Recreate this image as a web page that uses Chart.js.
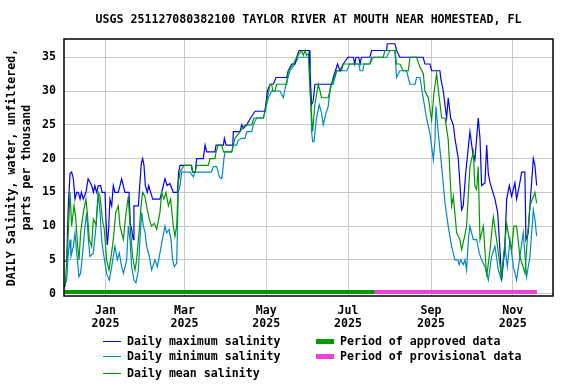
<!DOCTYPE html>
<html lang="en">
<head>
<meta charset="UTF-8">
<title>USGS 251127080382100 Taylor River salinity</title>
<script src="https://cdn.jsdelivr.net/npm/chart.js@4/dist/chart.umd.min.js"></script>
<style>
  body { margin: 0; background: #fff; }
  #wrap { position: relative; width: 576px; height: 384px; font-family: "DejaVu Sans Mono", monospace; font-weight: bold; font-size: 11.6px; color: #000; }
  #title { position: absolute; top: 12px; left: 64px; width: 489px; text-align: center; white-space: nowrap; }
  .leg { position: absolute; height: 16px; line-height: 16px; white-space: nowrap; }
  .leg i { display: inline-block; vertical-align: middle; width: 18px; margin-right: 6px; }
</style>
</head>
<body>
<div id="wrap">
  <canvas id="chart" width="576" height="384"></canvas>
  <div id="title">USGS 251127080382100 TAYLOR RIVER AT MOUTH NEAR HOMESTEAD, FL</div>
  <div class="leg" style="left:103px; top:333px"><i style="height:1.5px; background:#0000ff"></i>Daily maximum salinity</div>
  <div class="leg" style="left:103px; top:348px"><i style="height:1.5px; background:#0088cc"></i>Daily minimum salinity</div>
  <div class="leg" style="left:103px; top:365px"><i style="height:1.5px; background:#009900"></i>Daily mean salinity</div>
  <div class="leg" style="left:316px; top:333px"><i style="height:5px; background:#009900"></i>Period of approved data</div>
  <div class="leg" style="left:316px; top:348px"><i style="height:5px; background:#f040d8"></i>Period of provisional data</div>
</div>
<script>
// x = days since 2024-12-01, y = salinity (ppt)
const dailyMax = [[0,4.8],[2,4.8],[2.5,8],[3.2,13],[4.5,17.8],[5.7,18],[7,17],[8.2,14],[9.5,15],[10.7,15],[12,14],[13,15],[14.4,14],[16.4,15],[18,17],[19.4,16.5],[20.6,16],[22,15],[23,16],[24.4,15],[25.6,16],[27.4,16],[28.4,15],[30.6,15],[31.3,11],[32.3,7.2],[33.3,9.5],[34.3,14],[35.6,13],[36.8,16],[38,15],[40.5,15],[41.8,16],[43,17],[44.3,16],[45.5,15],[48.5,15],[49.5,10.4],[50.5,9.5],[51.7,8],[52.2,13],[55.5,13],[56.2,15],[57.7,19.3],[58.7,20],[59.7,19],[60.7,16],[62.2,15],[63.2,16],[64.7,15],[66.2,14],[71.6,14],[72.9,15],[75.4,17],[77,16],[79,16.3],[81.6,15],[84.6,15],[85.6,18],[86.6,19],[95,19],[96,18],[98,18],[99,20],[104,20],[105.3,22],[106.5,21],[112.7,21],[113.5,22],[119,22],[119.7,23],[121,22],[126,22],[126.4,24],[131.4,24],[132.6,25],[133.9,24.5],[136.4,25],[139.3,26],[142.6,27],[150,27],[151.8,30],[153.8,31],[156.3,31],[158.2,32],[166.2,32],[167.4,33],[169.9,34],[172.4,34],[173.7,35],[175.4,36],[183,36],[183.6,33],[184.8,28],[186,28.5],[187.3,31],[199.7,31],[201,32],[204.2,34],[206,33],[208.4,34],[212,35],[216,35],[217,34],[218,35],[220,35],[221,34],[222,35],[228.3,35],[229.6,36],[240.8,36],[241.3,37],[247,37],[248.2,36],[250.7,35],[268.1,35],[269.4,34],[273.2,34],[274.4,33],[280.6,33],[281.1,32],[283.1,30],[285.6,26],[286.8,29],[288.6,26],[290.6,25],[291.8,23],[294.3,20],[296.8,12.4],[298,13],[299.8,17.8],[303,24],[305,21],[306.7,19.8],[309.2,26],[310.5,23],[311.7,16],[314.2,16.4],[315.5,22],[316.7,17.8],[318,16.4],[321.7,14],[323.7,12],[325.4,6.5],[326.6,2],[329.1,7],[330.4,14],[332.4,16],[334.1,14.4],[336.6,16.4],[337.8,14],[339.8,15.9],[341.6,18],[344,18],[344.8,8],[346.5,9],[347.8,13],[350.3,20],[351.5,19],[352.8,16]];

const dailyMin = [[0,0.8],[0.7,0.8],[2,2],[3.2,6],[4.5,8],[5.2,5.5],[7,7],[8.2,9],[9.5,6],[11.2,2.5],[12.4,3],[13.9,6],[15.7,10],[16.9,12],[18.2,8],[19.4,5.5],[21.9,6],[23.9,10],[25.6,14.9],[26.9,12],[28.1,8],[29.4,6],[31.8,3],[33.8,2],[35.6,4],[38,7],[39.8,5],[41.3,6],[43,4],[44.3,3],[46.8,5],[48,10],[49.3,8],[50.5,4],[52.2,2],[53.7,1.6],[55.5,3.5],[56.7,8],[58,12],[59.2,10],[60.4,9.2],[61.7,7],[63.7,5.5],[65.4,3.5],[67.9,5],[69.7,4],[71.6,6],[73.4,8],[75.4,10],[76.6,9],[78.4,9.5],[79.9,8],[81.1,5],[82.3,4],[84.1,4.5],[85.3,15],[86.6,16],[87.8,18],[94,18],[96.5,17.3],[97.8,18],[110,18],[111.5,18.8],[114,18.8],[116,17.3],[117.7,17],[118.4,18],[119.4,20],[120.2,21],[125.2,21],[126.4,22],[128.9,22],[130,22.7],[132.6,23],[135.1,23],[136.4,24],[140.1,24],[141.3,25],[143.8,26],[148.8,26],[150,27],[152.5,29],[155,30],[161.2,30],[163.7,29],[165.7,31],[168.7,33],[172.4,34],[174.9,35],[183,35],[183.6,32.6],[184.8,24],[185.6,22.5],[186.6,22.5],[188.5,26],[190.5,28],[192.3,26.7],[193.5,25],[195.5,26.7],[197.2,27.7],[199,31],[201,31],[203.5,33],[210.9,33],[213.4,34],[220,34],[221,33],[223,33],[224,34],[228.3,34],[230.8,35],[240.8,35],[243.3,36],[247,36],[248.2,32],[250.7,33],[255.7,33],[258.2,31],[262,31],[263.2,32],[265.7,32],[268.1,29],[270.6,26],[273.2,23.7],[275.7,19.8],[276.9,22.7],[277.6,27.7],[279.4,23.7],[281.9,18.8],[284.4,13.4],[286.8,10],[289.3,7],[291.8,5],[294,5],[295,4.3],[296,5],[298,4.3],[299.3,5],[300.5,3.5],[301.8,8],[303,10],[305.5,8],[308,8],[310,6],[311.7,5],[314.2,4],[316.7,2],[319.2,5.5],[321.7,7],[324.2,3.5],[326.6,2],[329.1,7],[330.9,4],[332.9,8],[335.4,4],[337.8,2],[340.3,5.5],[342.8,9],[345.3,2.5],[347.8,5.5],[350.3,12.4],[351.5,11],[352.8,8.5]];

const dailyMean = [[0.7,1],[2.5,6],[4.5,15],[5.7,10],[7.5,13],[8.7,11.4],[10,7.5],[11.2,5],[12.4,9],[14.4,12],[16.4,14],[17.4,12],[18.9,8],[20.6,7],[21.9,11],[23.9,10.2],[25.6,15],[26.9,14.4],[28.6,11],[30.1,9.5],[31.8,5],[33.6,3.5],[34.8,5],[36.8,8],[38.6,12],[40.5,13],[41.8,10],[44.3,8],[46,11.4],[48,14.4],[49.3,10],[51.2,5.5],[53,3.5],[54.2,5],[56,9],[57.5,13],[58.7,15],[60.4,14.4],[62.2,12.4],[63.7,11],[65.4,10],[67.4,10.4],[69.2,9.5],[71.6,12],[72.9,15],[74.6,14],[76.1,15],[77.9,13],[79.6,14],[81.6,10],[82.8,8.5],[84.1,10],[85.3,16.4],[86.6,18],[89.6,19],[95.3,19],[96,18],[97.8,18],[99,19],[107.7,19],[109,20],[112.7,20],[113.5,21],[115.2,22],[117.7,22],[119,21],[125.2,21],[127.6,23],[131.4,24],[135.1,25],[140.1,25],[141.8,26],[148.8,26],[150,27],[151.8,29],[153.8,31],[155,31],[155.8,30],[157.5,30],[158.7,31],[166.2,31],[167.4,33],[171.2,34],[173.7,35],[177.4,36],[178.6,35.3],[180,36],[181,35.3],[182.4,35.5],[183.6,30],[185.6,24],[187.3,28],[189.8,31],[192.3,29],[197.2,29],[199.7,31],[203.5,33],[207.2,33],[208.4,34],[228.3,34],[229.6,35],[238.3,35],[239.5,36],[247,36],[248.2,34],[250.7,34],[253.2,33],[257,33],[258.2,35],[263.2,35],[265.7,33.5],[268.2,32.6],[269.4,30],[271.9,29],[274.4,25.7],[276.1,29.6],[278.1,32.6],[280.1,29],[281.9,26],[284.4,26],[286.8,22.8],[289.3,13],[290.6,14.4],[293.1,9],[295.5,8],[296.8,6.5],[298.5,8],[300.5,10],[303,18.8],[305.5,21],[306.7,15.9],[308,15.4],[309.2,18.8],[310.5,8],[313,10],[315.5,2.5],[318,6.5],[320.4,11.4],[322.9,8],[326.6,2.5],[328.4,6],[330.4,10.4],[332.4,8],[334.1,6.5],[335.8,10],[337.8,10],[340.3,5.5],[344.1,3],[345.8,8],[347.8,13],[351.5,15],[352.8,13.4]];

// approval periods, in days since 2024-12-01
const approvedPeriod = [0, 232];
const provisionalPeriod = [232, 353];

// axis ticks
const monthTicks = [31, 90, 151, 212, 274, 335];
const monthLabels = ['Jan', 'Mar', 'May', 'Jul', 'Sep', 'Nov'];
const tickYear = '2025';
const yTicks = [0, 5, 10, 15, 20, 25, 30, 35];

const BAR_Y = 0.25; // where the period bars sit
const FONT = { family: '"DejaVu Sans Mono", monospace', size: 11.6, weight: 'bold' };

const pts = arr => arr.map(p => ({ x: p[0], y: p[1] }));
const period = r => [{ x: r[0], y: BAR_Y }, { x: r[1], y: BAR_Y }];

function lineSet(label, data, color, order) {
    return { label, data, borderColor: color, borderWidth: 1.2, pointRadius: 0, tension: 0, fill: false, order };
}

// black frame around the plot area
const frame = {
    id: 'frame',
    afterDraw(chart) {
        const a = chart.chartArea, c = chart.ctx;
        c.save();
        c.strokeStyle = '#000';
        c.lineWidth = 1.5;
        c.strokeRect(a.left, a.top, a.right - a.left, a.bottom - a.top);
        c.restore();
    }
};

new Chart(document.getElementById('chart'), {
    type: 'line',
    data: {
        datasets: [
            { label: 'Period of approved data', data: period(approvedPeriod), borderColor: '#009900', borderWidth: 4, pointRadius: 0, order: 5 },
            { label: 'Period of provisional data', data: period(provisionalPeriod), borderColor: '#f040d8', borderWidth: 4, pointRadius: 0, order: 4 },
            lineSet('Daily minimum salinity', pts(dailyMin), '#0088cc', 3),
            lineSet('Daily maximum salinity', pts(dailyMax), '#0000ff', 2),
            lineSet('Daily mean salinity', pts(dailyMean), '#009900', 1)
        ]
    },
    options: {
        responsive: false,
        animation: false,
        layout: { padding: { top: 39, right: 23, bottom: 0, left: 0 } },
        plugins: { legend: { display: false }, tooltip: { enabled: false } },
        scales: {
            x: {
                type: 'linear',
                min: 0,
                max: 365,
                afterFit: s => { s.height = 88; },
                afterBuildTicks: s => { s.ticks = monthTicks.map(v => ({ value: v })); },
                grid: { color: '#c8c8c8', drawTicks: false },
                border: { display: false },
                ticks: {
                    color: '#000',
                    font: { ...FONT, lineHeight: 1.12 },
                    padding: 8,
                    maxRotation: 0,
                    callback: (v, i) => [monthLabels[i], tickYear]
                }
            },
            y: {
                min: -0.35,
                max: 37.7,
                afterFit: s => { s.width = 64; },
                afterBuildTicks: s => { s.ticks = yTicks.map(v => ({ value: v })); },
                grid: { color: '#c8c8c8', drawTicks: false },
                border: { display: false },
                ticks: { color: '#000', font: FONT, padding: 8 },
                title: {
                    display: true,
                    text: ['DAILY Salinity, water, unfiltered,', 'parts per thousand'],
                    color: '#000',
                    font: { ...FONT, lineHeight: 1.3 },
                    padding: { top: 4, bottom: 0 }
                }
            }
        }
    },
    plugins: [frame]
});
</script>
</body>
</html>
